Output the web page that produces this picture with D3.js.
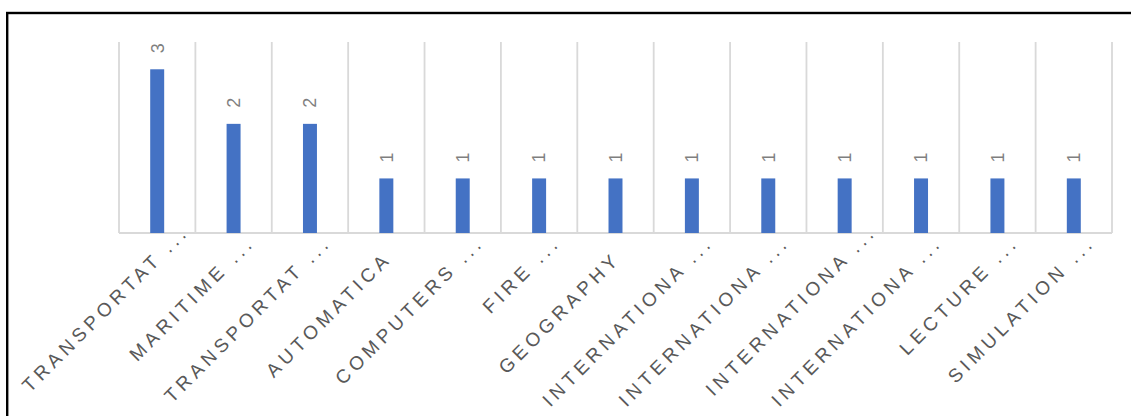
<!DOCTYPE html>
<html>
<head>
<meta charset="utf-8">
<script src="https://cdn.jsdelivr.net/npm/d3@7"></script>
<style>
  html, body { margin: 0; padding: 0; background: #ffffff; }
  svg { display: block; }
</style>
</head>
<body>
<svg id="chart" width="1131" height="416"></svg>
<script>
// Chart data
const categories = [
  "TRANSPORTAT ...", "MARITIME ...", "TRANSPORTAT ...", "AUTOMATICA",
  "COMPUTERS ...", "FIRE ...", "GEOGRAPHY", "INTERNATIONA ...",
  "INTERNATIONA ...", "INTERNATIONA ...", "INTERNATIONA ...", "LECTURE ...",
  "SIMULATION ..."
];
const counts = [3, 2, 2, 1, 1, 1, 1, 1, 1, 1, 1, 1, 1];
const valueMax = 3.5;

// Layout: how far each rotated category label slides along its own baseline
const labelShift = [38, 23, 23, 0, 23, 23, 0, 23, 23, 38, 23, 23, 23];

const W = 1131, H = 416;
const plot = { left: 119, right: 1112, top: 42, bottom: 233 };
const barColor = "#4472c4";
const gridColor = "#d9d9d9";
const labelSpacing = 4.5;

const svg = d3.select("#chart");

// Outer frame (top and left edges visible)
svg.append("rect")
  .attr("x", 7.2).attr("y", 13)
  .attr("width", 1300).attr("height", 600)
  .attr("fill", "none")
  .attr("stroke", "#000")
  .attr("stroke-width", 2.4);

const idx = d3.range(categories.length);
const x = d3.scaleBand().domain(idx).range([plot.left, plot.right]).padding(0);
const y = d3.scaleLinear().domain([0, valueMax]).range([plot.bottom, plot.top]);

// Vertical gridlines at category boundaries
const bounds = idx.map(i => x(i)).concat([x.range()[1]]);
svg.append("g").selectAll("line").data(bounds).join("line")
  .attr("x1", d => d).attr("x2", d => d)
  .attr("y1", y(valueMax)).attr("y2", y(0))
  .attr("stroke", gridColor).attr("stroke-width", 1.8);

// Category axis line
svg.append("line")
  .attr("x1", plot.left).attr("x2", plot.right)
  .attr("y1", y(0)).attr("y2", y(0))
  .attr("stroke", gridColor).attr("stroke-width", 2);

// Bars
const barW = x.bandwidth() * 0.183;
svg.append("g").selectAll("rect").data(idx).join("rect")
  .attr("x", i => x(i) + x.bandwidth() / 2 - barW / 2)
  .attr("y", i => y(counts[i]))
  .attr("width", barW)
  .attr("height", i => y(0) - y(counts[i]))
  .attr("fill", barColor);

// Value labels, rotated and set above each bar
svg.append("g").selectAll("text").data(idx).join("text")
  .attr("transform", i => `translate(${x(i) + x.bandwidth() / 2},${y(counts[i]) - 21}) rotate(-90)`)
  .attr("text-anchor", "middle")
  .attr("dy", "0.35em")
  .attr("font-family", "'Liberation Sans', Arial, sans-serif")
  .attr("font-size", 18)
  .attr("fill", "#7f7f7f")
  .text(i => counts[i]);

// Category labels at -45 degrees
const k = Math.SQRT1_2;
svg.append("g").selectAll("text").data(idx).join("text")
  .attr("transform", i => {
    const s = labelShift[i] + labelSpacing;
    const cx = x(i) + x.bandwidth() / 2 + 3 + s * k;
    const cy = 263 - s * k;
    return `translate(${cx},${cy}) rotate(-45)`;
  })
  .attr("text-anchor", "end")
  .attr("font-family", "'Liberation Sans', Arial, sans-serif")
  .attr("font-size", 19)
  .attr("letter-spacing", labelSpacing + "px")
  .attr("fill", "#595959")
  .text(i => categories[i]);
</script>
</body>
</html>
